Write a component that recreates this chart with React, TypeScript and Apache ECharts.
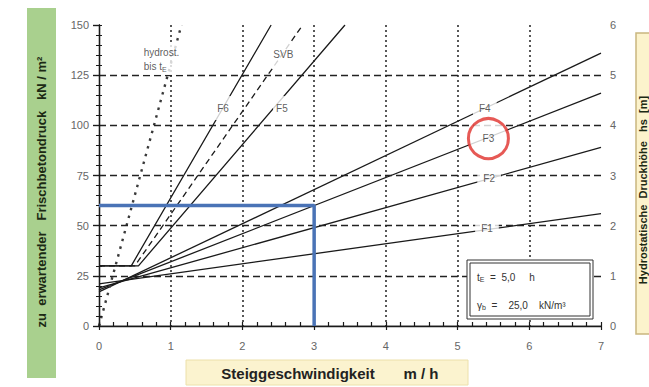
import React, { useEffect, useRef } from "react";
import * as echarts from "echarts";

// ---- data ----
const X_RANGE = [0, 7];
const PRESSURE_RANGE = [0, 150];
const HEAD_RANGE = [0, 6];

// consistency classes F1..F4: start / end points (v in m/h, pressure in kN/m²)
const F1 = [[0, 21], [7, 56]];
const F2 = [[0, 19], [7, 89]];
const F3 = [[0, 18], [7, 116]];
const F4 = [[0, 17], [7, 136]];
// F5, F6, SVB: minimum 30 kN/m², then steep rise
const F5 = [[0, 30], [0.55, 30], [3.43, 150]];
const F6 = [[0, 30], [0.45, 30], [2.4, 150]];
const SVB = [[0, 30], [0.5, 30], [2.84, 150]];
// hydrostatic pressure up to t_E
const HYDRO = [[0, 0], [1.15, 150]];
// worked example (blue): v = 3 m/h -> 60 kN/m²
const EXAMPLE = [[0, 60], [3, 60], [3, 0]];

// label anchors on the curves
const FLAT_LABELS = [
  { name: "F4", value: [5.38, 108.6] },
  { name: "F2", value: [5.44, 73.7] },
  { name: "F1", value: [5.41, 48.6] },
];
const STEEP_LABELS = [
  { name: "F6", value: [1.73, 108.6] },
  { name: "F5", value: [2.55, 108.6] },
  { name: "SVB", value: [2.57, 135.5] },
];
const HIGHLIGHT = [{ name: "F3", value: [5.43, 93.4] }];
const HYDRO_LABEL = [{ name: "hydrost.", value: [0.56, 133] }];

const FONT = "Arial, 'Liberation Sans', sans-serif";

export default function App() {
  const ref = useRef<HTMLDivElement>(null);

  useEffect(() => {
    if (!ref.current) return;
    const chart = echarts.init(ref.current, undefined, { renderer: "svg" });
    const black = "#1a1a1a";
    const lineSeries = (data: number[][], extra: any = {}) => ({
      type: "line",
      data,
      symbol: "none",
      silent: true,
      z: 3,
      lineStyle: { color: black, width: 1.3, ...extra },
    });
    const hiddenScatter = (data: any[], label: any, z = 6) => ({
      type: "scatter",
      data,
      symbol: "circle",
      symbolSize: 1,
      z,
      silent: true,
      itemStyle: { color: "rgba(0,0,0,0)" },
      label: { show: true, color: "#333", fontSize: 10, backgroundColor: "#fff", ...label },
    });

    chart.setOption({
      animation: false,
      textStyle: { fontFamily: FONT },
      grid: { left: 99, top: 25, width: 502, height: 301, show: false },
      xAxis: [
        {
          type: "value",
          min: X_RANGE[0],
          max: X_RANGE[1],
          interval: 1,
          position: "bottom",
          z: 4,
          axisLine: { show: true, lineStyle: { color: black, width: 1.3 } },
          axisTick: { show: true, inside: false, length: 4, lineStyle: { color: black, width: 1.2 } },
          axisLabel: { color: "#666", fontSize: 11, margin: 14 },
          splitLine: {
            show: true,
            showMinLine: false,
            showMaxLine: false,
            lineStyle: { color: "#222", type: [2, 3], width: 1.5 },
          },
        },
        {
          type: "value",
          min: X_RANGE[0],
          max: X_RANGE[1],
          interval: 0.2,
          position: "bottom",
          z: 4,
          axisLine: { show: false },
          axisTick: { show: true, inside: true, length: 4, lineStyle: { color: black, width: 1.2 } },
          axisLabel: { show: false },
          splitLine: { show: false },
        },
        {
          type: "value",
          min: X_RANGE[0],
          max: X_RANGE[1],
          position: "top",
          axisLine: { show: true, lineStyle: { color: "#aaa", width: 1.5 } },
          axisTick: { show: false },
          axisLabel: { show: false },
          splitLine: { show: false },
        },
      ],
      yAxis: [
        {
          type: "value",
          min: PRESSURE_RANGE[0],
          max: PRESSURE_RANGE[1],
          interval: 25,
          position: "left",
          z: 4,
          axisLine: { show: true, lineStyle: { color: black, width: 1.3 } },
          axisTick: { show: true, inside: false, length: 6, lineStyle: { color: black, width: 1.2 } },
          axisLabel: { color: "#666", fontSize: 11, margin: 10 },
          splitLine: {
            show: true,
            showMinLine: false,
            showMaxLine: false,
            lineStyle: { color: "#222", type: [7, 4], width: 1.3 },
          },
        },
        {
          type: "value",
          min: HEAD_RANGE[0],
          max: HEAD_RANGE[1],
          interval: 1,
          position: "right",
          z: 4,
          axisLine: { show: true, lineStyle: { color: black, width: 1.3 } },
          axisTick: { show: true, inside: true, length: 6, lineStyle: { color: black, width: 1.2 } },
          minorTick: { show: true, splitNumber: 5, length: 3, lineStyle: { color: black } },
          axisLabel: { color: "#666", fontSize: 11, margin: 9 },
          splitLine: { show: false },
        },
        {
          type: "value",
          min: PRESSURE_RANGE[0],
          max: PRESSURE_RANGE[1],
          interval: 5,
          position: "left",
          z: 4,
          axisLine: { show: false },
          axisTick: { show: true, inside: true, length: 3, lineStyle: { color: black } },
          axisLabel: { show: false },
          splitLine: { show: false },
        },
      ],
      series: [
        lineSeries(F1),
        lineSeries(F2),
        lineSeries(F3),
        lineSeries(F4),
        lineSeries(F5),
        lineSeries(F6),
        lineSeries(SVB, { type: [6, 4] }),
        lineSeries(HYDRO, { type: [2.5, 5.5], width: 2.4, color: "#3a3a3a" }),
        {
          type: "line",
          data: EXAMPLE,
          symbol: "none",
          silent: true,
          z: 5,
          lineStyle: { color: "#4a73b6", width: 3.5 },
        },
        hiddenScatter(FLAT_LABELS, { position: "inside", formatter: "{b}", padding: [3, 6] }),
        hiddenScatter(STEEP_LABELS, { position: "inside", formatter: "{b}", padding: [7, 3] }),
        hiddenScatter(HYDRO_LABEL, {
          position: "right",
          distance: 0,
          formatter: "hydrost.\nbis t{s|E}",
          lineHeight: 14,
          align: "left",
          padding: [2, 4],
          rich: { s: { fontSize: 7, color: "#333", verticalAlign: "bottom", padding: [6, 0, 0, 0] } },
        }),
        {
          type: "scatter",
          data: HIGHLIGHT,
          symbol: "circle",
          symbolSize: 40,
          z: 7,
          silent: true,
          itemStyle: { color: "#fff", borderColor: "#e0302a", borderWidth: 3 },
          label: { show: true, position: "inside", formatter: "{b}", color: "#333", fontSize: 10 },
        },
      ],
      graphic: [
        { type: "rect", shape: { x: 27, y: 8, width: 29, height: 370 }, style: { fill: "#a9d08e" }, z: 1 },
        {
          type: "text",
          x: 41,
          y: 192,
          rotation: Math.PI / 2,
          style: {
            text: "zu  erwartender   Frischbetondruck   kN / m²",
            fill: "#1c2a14",
            font: `bold 13px ${FONT}`,
            align: "center",
            verticalAlign: "middle",
          },
          z: 2,
        },
        {
          type: "rect",
          shape: { x: 186, y: 360, width: 282, height: 25 },
          style: { fill: "#fbf3cf", stroke: "#ece0aa", lineWidth: 1 },
          z: 1,
        },
        {
          type: "text",
          x: 298,
          y: 373,
          style: { text: "Steiggeschwindigkeit", fill: "#222", font: `bold 15px ${FONT}`, align: "center", verticalAlign: "middle" },
          z: 2,
        },
        {
          type: "text",
          x: 421,
          y: 373,
          style: { text: "m / h", fill: "#222", font: `bold 15px ${FONT}`, align: "center", verticalAlign: "middle" },
          z: 2,
        },
        {
          type: "rect",
          shape: { x: 636, y: 33, width: 22, height: 301 },
          style: { fill: "#fcf3cc", stroke: "#c9b77f", lineWidth: 1.5 },
          z: 1,
        },
        {
          type: "text",
          x: 643,
          y: 190,
          rotation: Math.PI / 2,
          style: {
            text: "Hydrostatische  Druckhöhe   hs  [m]",
            fill: "#1c2a14",
            font: `bold 11px ${FONT}`,
            align: "center",
            verticalAlign: "middle",
          },
          z: 2,
        },
        {
          type: "rect",
          shape: { x: 467, y: 260, width: 126, height: 59 },
          style: { fill: "#fff", stroke: "#333", lineWidth: 1 },
          z: 10,
        },
        {
          type: "rect",
          shape: { x: 470, y: 263, width: 120, height: 53 },
          style: { fill: "#fff", stroke: "#333", lineWidth: 1 },
          z: 10,
        },
        {
          type: "text",
          x: 477,
          y: 277,
          style: {
            text: "t{s|E}  =  5,0     h",
            fill: "#333",
            font: `10px ${FONT}`,
            verticalAlign: "middle",
            rich: { s: { fontSize: 7, fill: "#333", verticalAlign: "bottom", padding: [5, 0, 0, 0] } },
          },
          z: 11,
        },
        {
          type: "text",
          x: 477,
          y: 305,
          style: {
            text: "γ{s|b}  =    25,0    kN/m³",
            fill: "#333",
            font: `10px ${FONT}`,
            verticalAlign: "middle",
            rich: { s: { fontSize: 7, fill: "#333", verticalAlign: "bottom", padding: [5, 0, 0, 0] } },
          },
          z: 11,
        },
      ],
    });
    return () => chart.dispose();
  }, []);

  return (
    <div
      ref={ref}
      style={{ position: "fixed", left: 0, top: 0, width: 649, height: 387, background: "#fff" }}
    />
  );
}
